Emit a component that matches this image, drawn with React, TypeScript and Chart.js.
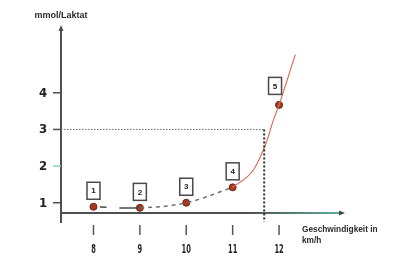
import React, { useEffect, useRef } from "react";
import { Chart, registerables } from "chart.js";

Chart.register(...registerables);

// Lactate step test: speed (km/h) vs blood lactate (mmol/l)
const speeds = [8, 9, 10, 11, 12];
const lactate = [0.89, 0.86, 1.0, 1.42, 3.67];
const stageLabels = ["1", "2", "3", "4", "5"];

// Steep rise after stage 4
const riseSpeeds = [11, 11.45, 11.72, 11.88, 12, 12.35];
const riseLactate = [1.42, 1.9, 2.63, 3.26, 3.67, 5.04];

// Axis ticks
const speedTicks = [8, 9, 10, 11, 12];
const speedTickLabels = ["8", "9", "10", "11", "12"];
const lactateTicks = [1, 2, 3, 4];
const lactateTickLabels = ["1", "2", "3", "4"];

// 3 mmol threshold marker
const thresholdLactate = 3;
const thresholdSpeed = 11.68;
const thresholdFloor = 0.48;

const X_MIN = 7.3;
const X_MAX = 13.4;
const Y_MIN = 0.72;
const Y_MAX = 5.85;

const AXIS_COLOR = "#4f4f4f";
const TEAL = "#8ccfc2";

const axesPlugin = {
  id: "lactateAxes",
  beforeDatasetsDraw(chart: any) {
    const { ctx, chartArea, scales } = chart;
    const xs = scales.x;
    const ys = scales.y;
    const left = chartArea.left;
    const bottom = chartArea.bottom;
    const top = chartArea.top;
    const right = chartArea.right;
    ctx.save();

    // y axis with arrow
    ctx.strokeStyle = AXIS_COLOR;
    ctx.lineWidth = 2;
    ctx.beginPath();
    ctx.moveTo(left, bottom + 10);
    ctx.lineTo(left, top + 4);
    ctx.stroke();
    ctx.fillStyle = AXIS_COLOR;
    ctx.beginPath();
    ctx.moveTo(left, top);
    ctx.lineTo(left - 2.5, top + 6);
    ctx.lineTo(left + 2.5, top + 6);
    ctx.closePath();
    ctx.fill();

    // x axis with arrow, fading into teal
    const grad = ctx.createLinearGradient(left, 0, right, 0);
    grad.addColorStop(0, AXIS_COLOR);
    grad.addColorStop(0.65, AXIS_COLOR);
    grad.addColorStop(1, "#5faea6");
    ctx.strokeStyle = grad;
    ctx.beginPath();
    ctx.moveTo(left, bottom);
    ctx.lineTo(right - 4, bottom);
    ctx.stroke();
    ctx.fillStyle = "#3e4a48";
    ctx.beginPath();
    ctx.moveTo(right + 1, bottom);
    ctx.lineTo(right - 5, bottom - 2.5);
    ctx.lineTo(right - 5, bottom + 2.5);
    ctx.closePath();
    ctx.fill();

    // y ticks and labels
    ctx.font = 'bold 13px "Liberation Sans Narrow", "DejaVu Sans Condensed", Arial, sans-serif';
    ctx.textAlign = "center";
    ctx.textBaseline = "middle";
    lactateTicks.forEach((v, i) => {
      const py = ys.getPixelForValue(v);
      ctx.strokeStyle = v === 2 ? TEAL : AXIS_COLOR;
      ctx.lineWidth = 1.5;
      ctx.beginPath();
      ctx.moveTo(left - 8, py);
      ctx.lineTo(left, py);
      ctx.stroke();
      ctx.fillStyle = "#222";
      ctx.fillText(lactateTickLabels[i], left - 18, py + 0.5);
    });

    // x ticks (set below the axis) and labels
    speedTicks.forEach((v, i) => {
      const px = xs.getPixelForValue(v);
      ctx.strokeStyle = "#555";
      ctx.lineWidth = 1.5;
      ctx.beginPath();
      ctx.moveTo(px, bottom + 12);
      ctx.lineTo(px, bottom + 22);
      ctx.stroke();
      ctx.save();
      ctx.translate(px, bottom + 37);
      ctx.scale(0.62, 1);
      ctx.fillStyle = "#222";
      ctx.font = 'bold 12px "Liberation Sans Narrow", "DejaVu Sans Condensed", Arial, sans-serif';
      ctx.fillText(speedTickLabels[i], 0, 0);
      ctx.restore();
    });

    // axis titles
    ctx.fillStyle = "#2a2a2a";
    ctx.font = 'bold 9px "Liberation Sans", Arial, sans-serif';
    ctx.textAlign = "center";
    ctx.fillText("mmol/Laktat", left, 16);
    ctx.textAlign = "left";
    ctx.font = 'bold 8.3px "Liberation Sans", Arial, sans-serif';
    ctx.fillText("Geschwindigkeit in", 302, 230);
    ctx.fillText("km/h", 302, 241);
    ctx.restore();
  },
  afterDatasetsDraw(chart: any) {
    const { ctx, scales } = chart;
    const xs = scales.x;
    const ys = scales.y;
    ctx.save();
    ctx.font = 'bold 8px "Liberation Sans", Arial, sans-serif';
    ctx.textAlign = "center";
    ctx.textBaseline = "middle";
    speeds.forEach((s, i) => {
      const last = i === speeds.length - 1;
      const cx = xs.getPixelForValue(s) + (last ? -4 : 0);
      const cy = ys.getPixelForValue(lactate[i]) - (last ? 19 : 16);
      const w = 13;
      const h = 17;
      ctx.fillStyle = "#ffffff";
      ctx.fillRect(cx - w / 2, cy - h / 2, w, h);
      ctx.strokeStyle = "#4a4a4a";
      ctx.lineWidth = 1.5;
      ctx.strokeRect(cx - w / 2, cy - h / 2, w, h);
      ctx.fillStyle = "#222";
      ctx.fillText(stageLabels[i], cx, cy + 0.5);
    });
    ctx.restore();
  },
};

export default function App() {
  const ref = useRef<HTMLCanvasElement | null>(null);

  useEffect(() => {
    const canvas = ref.current;
    if (!canvas) return;
    const stagePoints = speeds.map((s, i) => ({ x: s, y: lactate[i] }));
    const chart = new Chart(canvas, {
      type: "line",
      data: {
        datasets: [
          {
            label: "threshold-h",
            data: [
              { x: X_MIN, y: thresholdLactate },
              { x: thresholdSpeed, y: thresholdLactate },
            ],
            borderColor: "#6a6a6a",
            borderWidth: 1,
            borderDash: [1.5, 1.5],
            pointRadius: 0,
            clip: false,
          } as any,
          {
            label: "threshold-v",
            data: [
              { x: thresholdSpeed, y: thresholdLactate },
              { x: thresholdSpeed, y: thresholdFloor },
            ],
            borderColor: "#2e2e2e",
            borderWidth: 2,
            borderDash: [2, 2],
            pointRadius: [0, 2],
            pointBackgroundColor: "#2e2e2e",
            pointBorderWidth: 0,
            clip: false,
          } as any,
          {
            label: "trend",
            data: stagePoints.slice(0, 4),
            borderColor: "#666",
            borderWidth: 1.5,
            tension: 0.4,
            pointRadius: 0,
            segment: {
              borderDash: (c: any) => (c.p0DataIndex === 0 ? [0, 6, 7, 13, 40, 0] : [4, 4]),
              borderColor: (c: any) => (c.p0DataIndex === 0 ? "#4a4a4a" : "#6e6e6e"),
            },
          } as any,
          {
            label: "rise",
            data: riseSpeeds.map((s, i) => ({ x: s, y: riseLactate[i] })),
            borderColor: "#d8705a",
            borderWidth: 1.2,
            cubicInterpolationMode: "monotone",
            pointRadius: 0,
          } as any,
          {
            label: "stages",
            data: stagePoints,
            showLine: false,
            pointRadius: 3.5,
            pointBackgroundColor: "#a8391c",
            pointBorderColor: "#6d2612",
            pointBorderWidth: 1,
          } as any,
        ],
      },
      options: {
        responsive: false,
        animation: false,
        devicePixelRatio: 1,
        layout: { padding: { left: 61, right: 49, top: 25, bottom: 53 } },
        plugins: { legend: { display: false }, tooltip: { enabled: false } },
        scales: {
          x: { type: "linear", min: X_MIN, max: X_MAX, display: false },
          y: { type: "linear", min: Y_MIN, max: Y_MAX, display: false },
        },
      },
      plugins: [axesPlugin],
    });
    return () => chart.destroy();
  }, []);

  return (
    <div style={{ position: "absolute", left: 0, top: 0, width: 393, height: 266, background: "#ffffff" }}>
      <canvas ref={ref} width={393} height={266} style={{ display: "block" }} />
    </div>
  );
}
